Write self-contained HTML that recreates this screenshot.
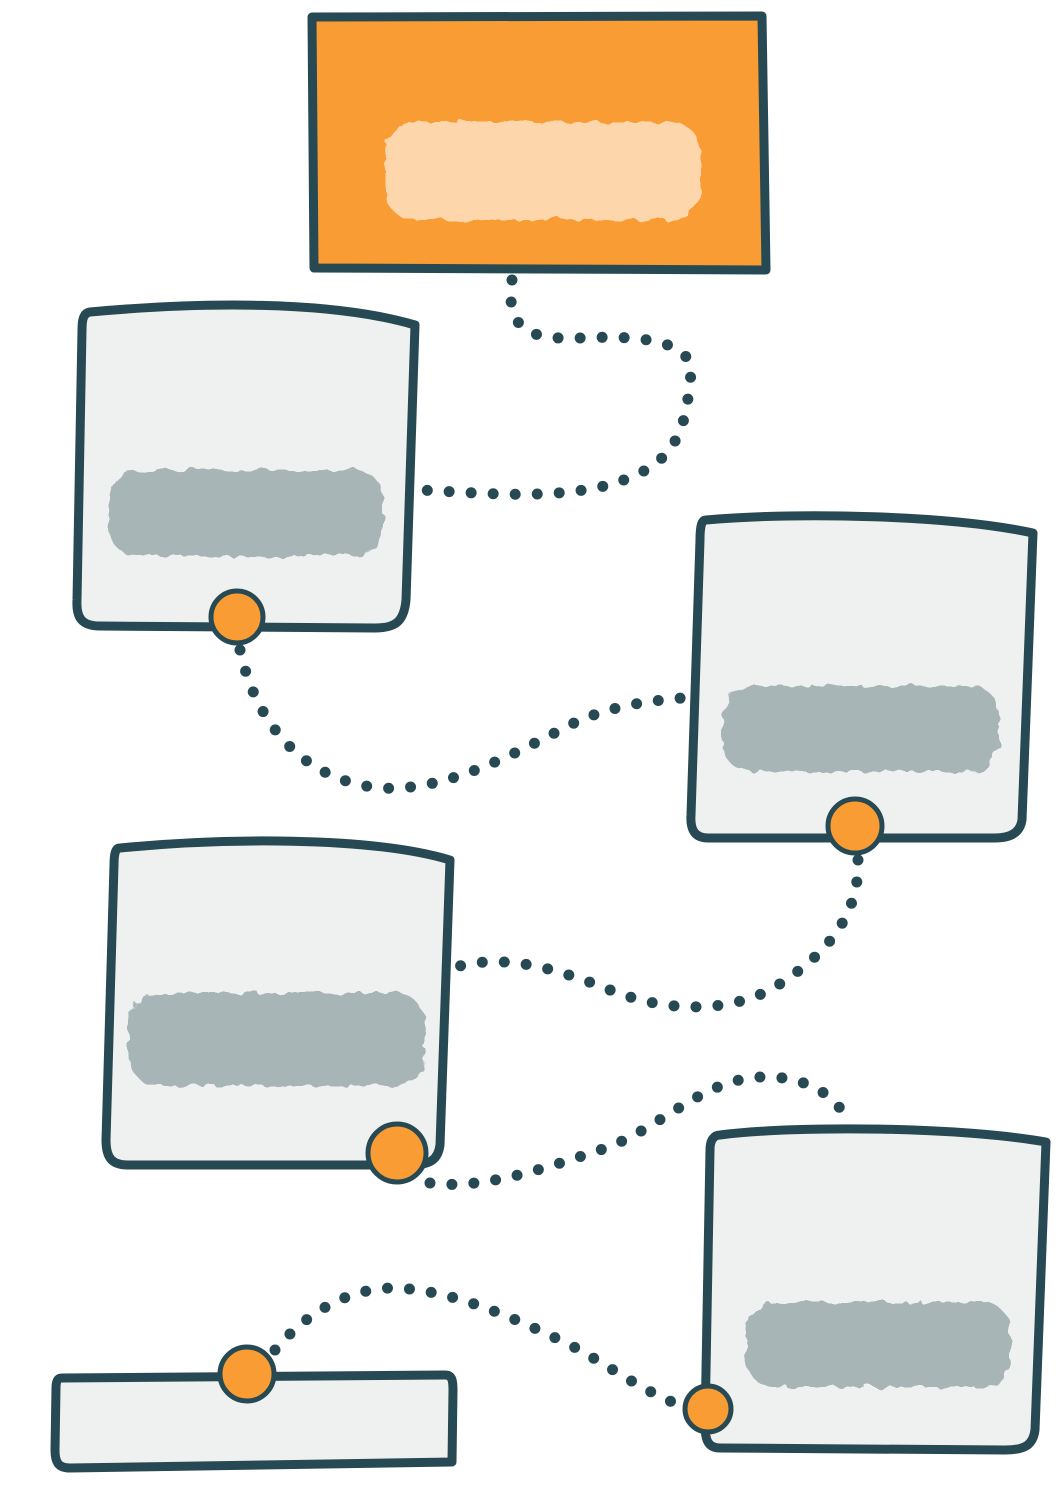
<!DOCTYPE html>
<html><head><meta charset="utf-8"><style>
html,body{margin:0;padding:0;background:#fff;}
svg{display:block}
</style></head><body>
<svg width="1064" height="1500" viewBox="0 0 1064 1500" xmlns="http://www.w3.org/2000/svg">
<defs>
<filter id="f" x="-5%" y="-10%" width="110%" height="120%"><feTurbulence type="fractalNoise" baseFrequency="0.08" numOctaves="2" seed="3"/><feDisplacementMap in="SourceGraphic" scale="10"/></filter>
</defs>
<g fill="none" stroke="#274953" stroke-width="11" stroke-linecap="round" stroke-dasharray="0 22">
<path d="M512 280 C505 330 530 340 580 338 C640 335 700 340 690 380 C685 440 670 470 600 487 C540 500 470 492 418 490"/>
<path d="M240 650 C255 720 300 780 380 788 C450 792 520 750 580 720 C630 700 670 700 690 697"/>
<path d="M858 860 C860 920 820 960 770 990 C720 1015 660 1010 610 990 C560 970 500 950 447 970"/>
<path d="M430 1183 C480 1190 540 1170 600 1150 C660 1130 700 1080 760 1077 C810 1075 840 1100 846 1120"/>
<path d="M275 1350 C300 1320 340 1290 390 1288 C450 1288 520 1320 580 1350 C630 1380 660 1400 690 1408"/>
</g>
<g stroke="#274953" stroke-width="9" stroke-linejoin="round">
<path d="M312 17 L762 16 L766 270 L314 268 Z" fill="#f89c33"/>
<path d="M90 312 C200 302 330 300 415 325 L406 600 C404 622 395 628 375 628 L100 626 C82 626 76 618 77 600 L82 330 C82 318 84 313 90 312 Z" fill="#eff1f0"/>
<path d="M706 520 C800 512 950 515 1033 533 L1022 820 C1020 833 1010 838 995 838 L708 838 C695 838 690 830 691 815 L700 540 C700 525 702 520 706 520 Z" fill="#eff1f0"/>
<path d="M120 848 C220 838 370 836 450 860 L440 1145 C438 1160 430 1165 410 1165 L128 1165 C112 1165 106 1158 106 1140 L114 865 C114 852 116 848 120 848 Z" fill="#eff1f0"/>
<path d="M720 1135 C800 1125 960 1127 1046 1142 L1035 1430 C1033 1445 1025 1450 1005 1450 L720 1448 C708 1448 705 1440 705 1425 L710 1150 C710 1140 714 1135 720 1135 Z" fill="#eff1f0"/>
<path d="M62 1378 L445 1375 C452 1375 453 1380 453 1390 L452 1462 L70 1468 C58 1468 55 1462 55 1450 L56 1388 C56 1380 58 1378 62 1378 Z" fill="#eff1f0"/>
</g>
<g filter="url(#f)">
<rect x="385" y="122" width="316" height="98" rx="30" fill="#fdd6ab"/>
<rect x="109" y="470" width="274" height="86" rx="28" fill="#a8b5b6"/>
<rect x="723" y="686" width="276" height="86" rx="28" fill="#a8b5b6"/>
<rect x="129" y="993" width="296" height="93" rx="30" fill="#a8b5b6"/>
<rect x="746" y="1302" width="264" height="85" rx="28" fill="#a8b5b6"/>
</g>
<g fill="#f89c33" stroke="#274953" stroke-width="5">
<circle cx="237" cy="617" r="26"/>
<circle cx="855" cy="826" r="27"/>
<circle cx="397" cy="1153" r="29"/>
<circle cx="708" cy="1409" r="23"/>
<circle cx="247" cy="1374" r="27"/>
</g>
</svg>
</body></html>
